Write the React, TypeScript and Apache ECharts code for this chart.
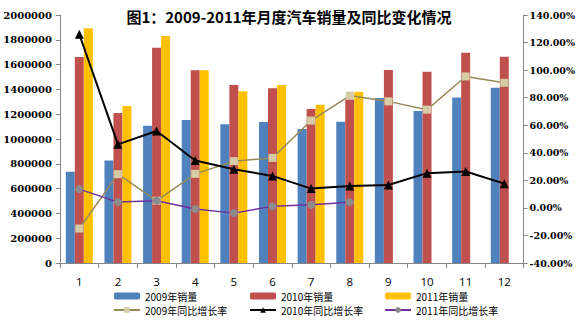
import React, { useEffect, useRef } from "react";
import * as echarts from "echarts";

const months = ["1", "2", "3", "4", "5", "6", "7", "8", "9", "10", "11", "12"];
const sales2009 = [735500, 827600, 1107000, 1153000, 1118000, 1137000, 1080000, 1139000, 1330000, 1226000, 1334000, 1413000];
const sales2010 = [1662000, 1210000, 1736000, 1554000, 1435000, 1409000, 1242000, 1318000, 1556000, 1543000, 1696000, 1664000];
const sales2011 = [1893000, 1266000, 1830000, 1554000, 1385000, 1435000, 1277000, 1381000];
const growth2009 = [-15.0, 24.5, 5.2, 24.7, 33.9, 36.3, 63.4, 81.5, 77.3, 71.3, 95.4, 90.8];
const growth2010 = [126.0, 46.1, 55.8, 34.4, 28.1, 23.2, 14.0, 15.9, 16.6, 25.2, 26.4, 17.6];
const growth2011 = [13.6, 4.2, 5.2, -0.8, -3.8, 1.1, 2.2, 4.1];
const leftTicks = { min: 0, max: 2000000, interval: 200000 };
const rightTicks = { min: -40, max: 140, interval: 20 };

const CJK = "Noto Sans CJK SC";
const SERIF = "DejaVu Serif";

export default function App() {
  const ref = useRef<HTMLDivElement>(null);
  useEffect(() => {
    if (!ref.current) return;
    const chart = echarts.init(ref.current, null, { renderer: "svg" });
    const legendBase = {
      orient: "vertical" as const,
      itemWidth: 26,
      itemHeight: 7,
      itemGap: 4,
      textStyle: { fontFamily: CJK, fontSize: 10, color: "#000", lineHeight: 10 },
      padding: 0,
    };
    chart.setOption({
      animation: false,
      backgroundColor: "#fff",
      title: {
        text: "图1：2009-2011年月度汽车销量及同比变化情况",
        left: "center",
        top: 9,
        padding: 0,
        textStyle: { fontFamily: CJK, fontSize: 15, fontWeight: "bold", color: "#000" },
      },
      legend: [
        { ...legendBase, left: 113, top: 291, data: ["2009年销量", "2009年同比增长率"] },
        { ...legendBase, left: 249, top: 291, data: ["2010年销量", "2010年同比增长率"] },
        { ...legendBase, left: 384, top: 291, data: ["2011年销量", "2011年同比增长率"] },
      ],
      grid: { left: 60, right: 53, top: 15, bottom: 62 },
      xAxis: {
        type: "category",
        data: months,
        axisLine: { lineStyle: { color: "#868686" } },
        axisTick: { show: true, length: 5, lineStyle: { color: "#868686" } },
        axisLabel: { color: "#000", fontSize: 11.5, margin: 12, fontFamily: "Open Sans" },
      },
      yAxis: [
        {
          type: "value",
          ...leftTicks,
          splitLine: { show: false },
          axisLine: { show: true, lineStyle: { color: "#868686" } },
          axisTick: { show: true, length: 4, lineStyle: { color: "#868686" } },
          axisLabel: {
            color: "#000",
            fontSize: 10,
            fontWeight: "bold",
            fontFamily: SERIF,
            margin: 8,
            formatter: (v: number) => String(v),
          },
        },
        {
          type: "value",
          ...rightTicks,
          position: "right",
          splitLine: { show: false },
          axisLine: { show: true, lineStyle: { color: "#868686" } },
          axisTick: { show: true, length: 4, lineStyle: { color: "#868686" } },
          axisLabel: {
            color: "#000",
            fontSize: 9.5,
            fontWeight: "bold",
            fontFamily: SERIF,
            margin: 6,
            formatter: (v: number) => v.toFixed(2) + "%",
          },
        },
      ],
      series: [
        { name: "2009年销量", type: "bar", data: sales2009, barWidth: 9, barGap: "0%", itemStyle: { color: "#4F81BD" } },
        { name: "2010年销量", type: "bar", data: sales2010, barWidth: 9, barGap: "0%", itemStyle: { color: "#C0504D" } },
        { name: "2011年销量", type: "bar", data: sales2011, barWidth: 9, barGap: "0%", itemStyle: { color: "#FFC000" } },
        {
          name: "2009年同比增长率",
          type: "line",
          yAxisIndex: 1,
          data: growth2009,
          symbol: "rect",
          symbolSize: 8,
          lineStyle: { color: "#958B57", width: 1.5 },
          itemStyle: { color: "#D5CBA5", borderWidth: 0 },
          z: 3,
        },
        {
          name: "2010年同比增长率",
          type: "line",
          yAxisIndex: 1,
          data: growth2010,
          symbol: "triangle",
          symbolSize: 9,
          lineStyle: { color: "#000", width: 2 },
          itemStyle: { color: "#000", borderWidth: 0 },
          z: 4,
        },
        {
          name: "2011年同比增长率",
          type: "line",
          yAxisIndex: 1,
          data: growth2011,
          symbol: "circle",
          symbolSize: 8,
          lineStyle: { color: "#7030A0", width: 1.5 },
          itemStyle: { color: "#8C8C8C", borderWidth: 0 },
          z: 3,
        },
      ],
    });
    return () => chart.dispose();
  }, []);
  return <div ref={ref} style={{ width: 578, height: 325, position: "absolute", left: 0, top: 0 }} />;
}
